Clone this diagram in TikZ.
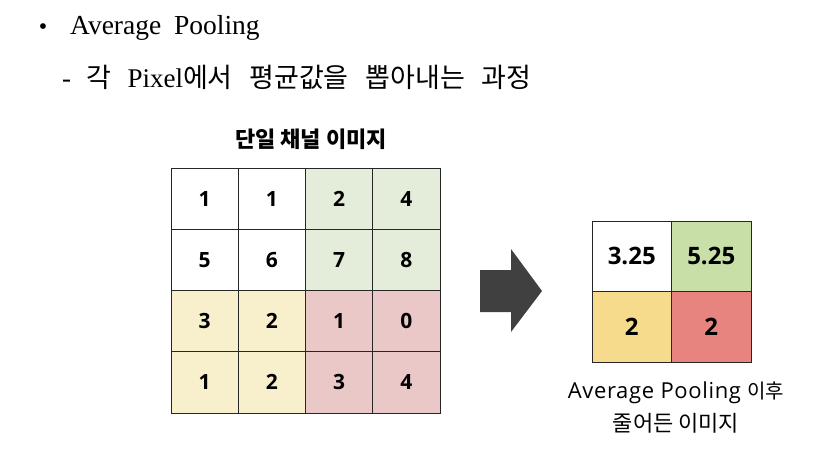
\documentclass[tikz,border=0pt]{standalone}
\usepackage{fontspec}
\setmainfont{Liberation Serif}
\newfontfamily\kr{Noto Sans CJK KR}
\newfontfamily\os{Open Sans}
\newfontfamily\osw[LetterSpace=3]{Open Sans}
\definecolor{gpale}{HTML}{E3EDD9}
\definecolor{ypale}{HTML}{F8F0CC}
\definecolor{rpale}{HTML}{EAC8C8}
\definecolor{gmid}{HTML}{C8DFA8}
\definecolor{ymid}{HTML}{F5DB8B}
\definecolor{rmid}{HTML}{E8847F}
\definecolor{arrowc}{HTML}{404040}
\begin{document}
\begin{tikzpicture}[x=1pt,y=-1pt,
  bigcell/.style={draw=black!85, line width=0.7pt, minimum width=67.25pt, minimum height=61.25pt, inner sep=0pt, font=\os\bfseries\fontsize{21}{21}\selectfont},
  smallcell/.style={draw=black!85, line width=0.8pt, minimum width=79.5pt, minimum height=70.5pt, inner sep=0pt, font=\os\bfseries\fontsize{24}{24}\selectfont}]
\useasboundingbox (0,0) rectangle (836,466);
% header
\node[anchor=base] (bul) at (43,34) {\fontsize{24}{24}\selectfont •};
\node[anchor=base west, inner sep=0pt] (h1) at (70,34) {\fontsize{27.5}{27.5}\selectfont Average\hspace{6pt} Pooling};
\node[anchor=base west, inner sep=0pt] (h2) at (62,87) {\fontsize{27}{27}\selectfont -\hspace{9pt} {\kr 각}\hspace{9pt} Pixel{\kr 에서}\hspace{10pt} {\kr 평균값을}\hspace{10pt} {\kr 뽑아내는}\hspace{10pt} {\kr 과정}};
% title
\node (title) at (311,139) {\kr\bfseries\fontsize{22}{22}\selectfont 단일 채널 이미지};
% big grid
\def\cx#1{171+67.25*#1+33.625}
\def\cy#1{168+61.25*#1+30.625}
\node[bigcell, fill=white] (a11) at ({\cx0},{\cy0}) {1};
\node[bigcell, fill=white] (a12) at ({\cx1},{\cy0}) {1};
\node[bigcell, fill=gpale] (a13) at ({\cx2},{\cy0}) {2};
\node[bigcell, fill=gpale] (a14) at ({\cx3},{\cy0}) {4};
\node[bigcell, fill=white] (a21) at ({\cx0},{\cy1}) {5};
\node[bigcell, fill=white] (a22) at ({\cx1},{\cy1}) {6};
\node[bigcell, fill=gpale] (a23) at ({\cx2},{\cy1}) {7};
\node[bigcell, fill=gpale] (a24) at ({\cx3},{\cy1}) {8};
\node[bigcell, fill=ypale] (a31) at ({\cx0},{\cy2}) {3};
\node[bigcell, fill=ypale] (a32) at ({\cx1},{\cy2}) {2};
\node[bigcell, fill=rpale] (a33) at ({\cx2},{\cy2}) {1};
\node[bigcell, fill=rpale] (a34) at ({\cx3},{\cy2}) {0};
\node[bigcell, fill=ypale] (a41) at ({\cx0},{\cy3}) {1};
\node[bigcell, fill=ypale] (a42) at ({\cx1},{\cy3}) {2};
\node[bigcell, fill=rpale] (a43) at ({\cx2},{\cy3}) {3};
\node[bigcell, fill=rpale] (a44) at ({\cx3},{\cy3}) {4};
% arrow
\fill[arrowc] (480,270) -- (511,270) -- (511,249) -- (542,291) -- (511,332) -- (511,312) -- (480,312) -- cycle;
% small grid
\node[smallcell, fill=white] (b11) at (631.75,256.25) {3.25};
\node[smallcell, fill=gmid] (b12) at (711.25,256.25) {5.25};
\node[smallcell, fill=ymid] (b21) at (631.75,326.75) {2};
\node[smallcell, fill=rmid] (b22) at (711.25,326.75) {2};
% caption
\node[anchor=base, inner sep=0pt, font=\osw\fontsize{22}{22}\selectfont] (cap1) at (676,398) {Average Pooling {\kr\fontsize{20}{20}\selectfont 이후}};
\node[anchor=base, inner sep=0pt, font=\kr\fontsize{22}{22}\selectfont] (cap2) at (676,431) {줄어든 이미지};
\end{tikzpicture}
\end{document}
